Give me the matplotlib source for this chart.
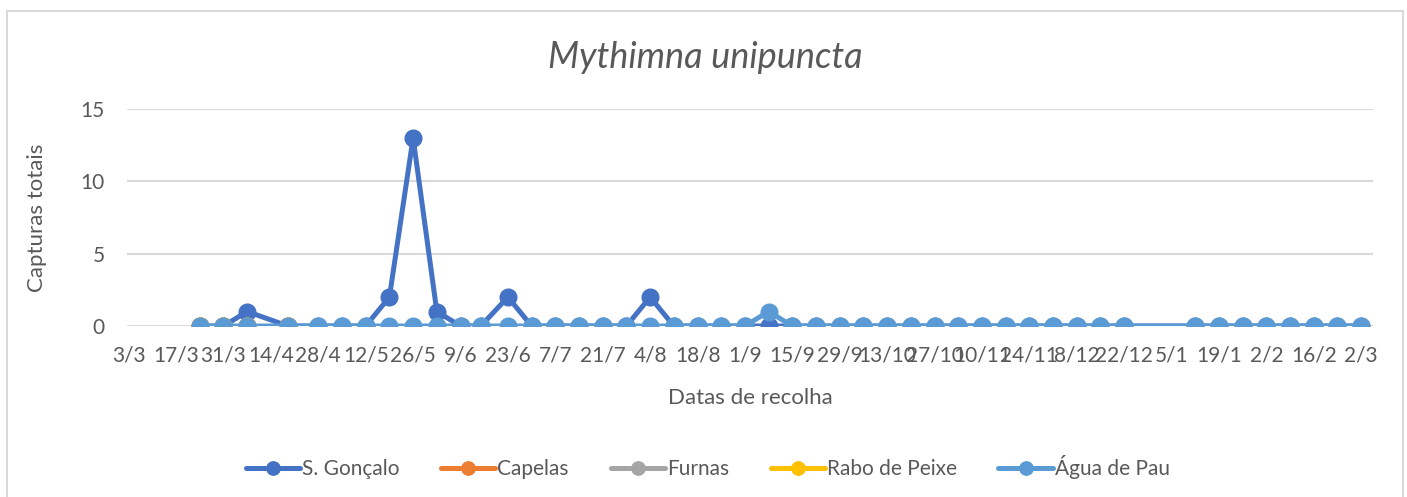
import numpy as np
import matplotlib.pyplot as plt
import matplotlib.dates as mdates
from matplotlib.patches import Rectangle

# Sampling dates (weekly traps)
dates = ["2018-03-24", "2018-03-31", "2018-04-07", "2018-04-19", "2018-04-28",
         "2018-05-05", "2018-05-12", "2018-05-19", "2018-05-26", "2018-06-02",
         "2018-06-09", "2018-06-15", "2018-06-23", "2018-06-30", "2018-07-07",
         "2018-07-14", "2018-07-21", "2018-07-28", "2018-08-04", "2018-08-11",
         "2018-08-18", "2018-08-25", "2018-09-01", "2018-09-08", "2018-09-15",
         "2018-09-22", "2018-09-29", "2018-10-06", "2018-10-13", "2018-10-20",
         "2018-10-27", "2018-11-03", "2018-11-10", "2018-11-17", "2018-11-24",
         "2018-12-01", "2018-12-08", "2018-12-15", "2018-12-22", "2019-01-12",
         "2019-01-19", "2019-01-26", "2019-02-02", "2019-02-09", "2019-02-16",
         "2019-02-23", "2019-03-02"]

s_goncalo = [0, 0, 1, 0, 0, 0, 0, 2, 13, 1,
             0, 0, 2, 0, 0, 0, 0, 0, 2, 0,
             0, 0, 0, 0, 0, 0, 0, 0, 0, 0,
             0, 0, 0, 0, 0, 0, 0, 0, 0, 0,
             0, 0, 0, 0, 0, 0, 0]
capelas = [0, 0, 0, 0]
furnas = [0, 0, 0, 0]
rabo_de_peixe = [0, 0, 0, 0]
agua_de_pau = [0, 0, 0, 0, 0, 0, 0, 0, 0, 0,
               0, 0, 0, 0, 0, 0, 0, 0, 0, 0,
               0, 0, 0, 1, 0, 0, 0, 0, 0, 0,
               0, 0, 0, 0, 0, 0, 0, 0, 0, 0,
               0, 0, 0, 0, 0, 0, 0]

series_names = ["S. Gonçalo", "Capelas", "Furnas", "Rabo de Peixe", "Água de Pau"]
series_values = [s_goncalo, capelas, furnas, rabo_de_peixe, agua_de_pau]
colors = ["#4472C4", "#ED7D31", "#A5A5A5", "#FFC000", "#5B9BD5"]

plt.rcParams['font.family'] = ['Lato', 'DejaVu Sans']
text_color = "#595959"

fig = plt.figure(figsize=(14.07, 4.97), dpi=100)
ax = fig.add_axes([127 / 1407, 1 - 326 / 497, 1246 / 1407, 217 / 497])

x_all = np.array(dates, dtype="datetime64[D]")
for name, vals, c in zip(series_names, series_values, colors):
    x = x_all[:len(vals)]
    ax.plot(x, vals, color=c, lw=3.6, marker='o', markersize=12,
            label=name, solid_capstyle='round')

# axes limits and ticks
ax.set_xlim(np.datetime64("2018-03-02T12:00"), np.datetime64("2019-03-05T12:00"))
ax.set_ylim(0, 15)
ax.set_yticks([0, 5, 10, 15])
xticks = np.arange(np.datetime64("2018-03-03"), np.datetime64("2019-03-03"), 14)
ax.set_xticks(xticks)
ax.xaxis.set_major_formatter(
    plt.FuncFormatter(lambda v, p: f"{mdates.num2date(v).day}/{mdates.num2date(v).month}"))

ax.grid(axis='y', color='#D9D9D9', lw=1.5)
ax.set_axisbelow(True)
for s in ax.spines.values():
    s.set_visible(False)
ax.tick_params(length=0, labelsize=15, colors=text_color)
ax.tick_params(axis='x', pad=14)
ax.tick_params(axis='y', pad=16)

ax.set_ylabel("Capturas totais", fontsize=16, color=text_color)
ax.yaxis.set_label_coords(-0.064, 0.5)
ax.set_xlabel("Datas de recolha", fontsize=16, color=text_color)
ax.xaxis.set_label_coords(0.5, -0.285)

fig.text(0.501, 0.885, "Mythimna unipuncta", fontsize=26, style='italic',
         color=text_color, ha='center', va='center')

fig.legend(loc='center', bbox_to_anchor=(0.503, 0.06), ncol=5, frameon=False,
           fontsize=15, handlelength=2.6, handletextpad=0.1, columnspacing=2.0,
           markerscale=0.8, labelcolor=text_color)

fig.patches.append(Rectangle((7 / 1407, -0.05), 1396 / 1407, 1.05 - 11 / 497,
                             transform=fig.transFigure, fill=False,
                             edgecolor='#D9D9D9', lw=1.5))

fig.savefig("out.png", dpi=100)
